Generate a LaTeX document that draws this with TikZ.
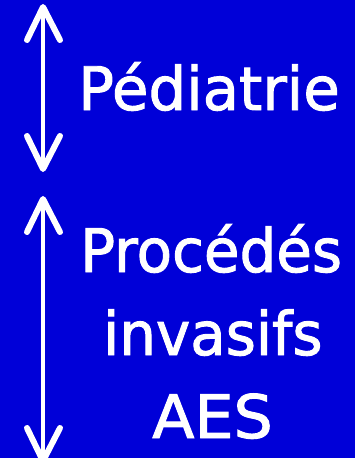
\documentclass[tikz,border=0pt]{standalone}
\usepackage{fontspec}
\setmainfont[FakeBold=1.6]{DejaVu Sans}
\definecolor{bgblue}{RGB}{0,0,216}
\tikzset{
  shaft/.style={draw=white,line width=4pt,line cap=round},
  wing/.style={draw=white,line width=6pt,line cap=round,line join=round},
  lbl/.style={text=white,inner sep=0pt,anchor=base west,font=\fontsize{60}{60}\selectfont}
}
\begin{document}
\begin{tikzpicture}[x=1pt,y=-1pt]
\fill[bgblue] (0,0) rectangle (355,458);
\useasboundingbox (0,0) rectangle (355,458);
% arrow 1
\coordinate (a1t) at (43,7);
\coordinate (a1b) at (43,169);
\draw[shaft] (a1t) -- (a1b);
\draw[wing] (27,40) -- (a1t) -- (60,40);
\draw[wing] (27,136) -- (a1b) -- (60,136);
% arrow 2
\coordinate (a2t) at (43,199);
\coordinate (a2b) at (43,461);
\draw[shaft] (a2t) -- (a2b);
\draw[wing] (27,232) -- (a2t) -- (60,232);
\draw[wing] (27,428) -- (a2b) -- (60,428);
% texts
\node[lbl] (t1) at (78,110) {\scalebox{0.99}[1]{Pédiatrie}};
\node[lbl] (t2) at (80,272) {\scalebox{0.965}[1]{Procédés}};
\node[lbl] (t3) at (103,355) {\scalebox{0.965}[1]{invasifs}};
\node[lbl] (t4) at (152,438) {\scalebox{1.03}[1]{AES}};
\end{tikzpicture}
\end{document}
